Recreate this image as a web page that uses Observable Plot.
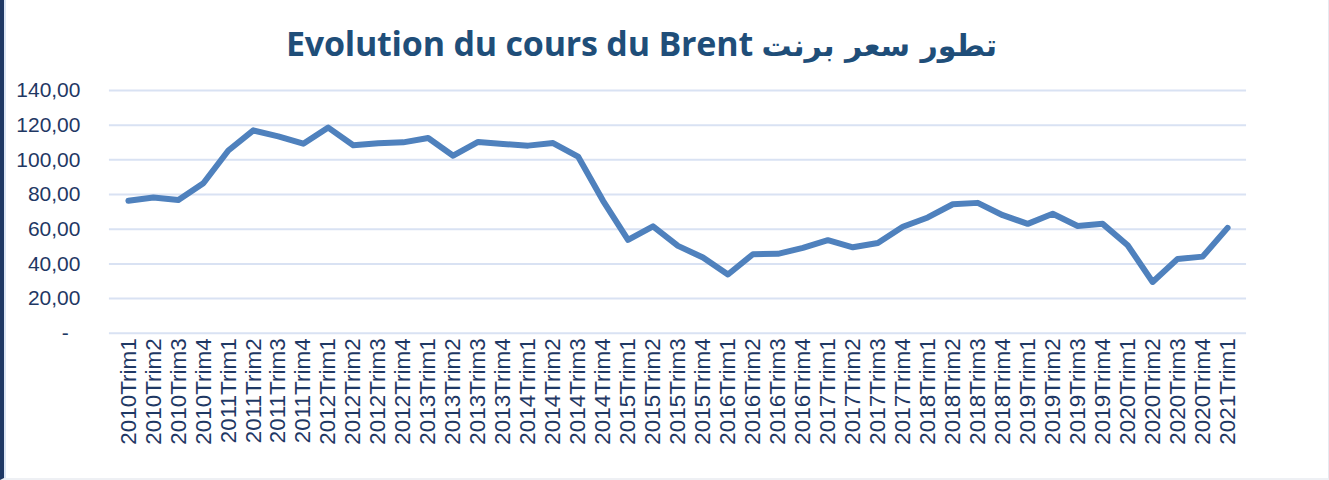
<!DOCTYPE html>
<html>
<head>
<meta charset="utf-8">
<script src="https://cdn.jsdelivr.net/npm/d3@7"></script>
<script src="https://cdn.jsdelivr.net/npm/@observablehq/plot@0.6"></script>
<style>
  html, body { margin: 0; padding: 0; background: #fff; }
  #frame { position: relative; width: 1329px; height: 480px; overflow: hidden; box-sizing: border-box;
           border-left: 4px solid #1f3864; border-right: 1px solid #e6e9ef; border-bottom: 2px solid #eef0f4; }
  #frame::before { content: ""; position: absolute; left: 0; top: 0; bottom: 0; width: 2px; background: #dbe5f4; }
  #title { position: absolute; left: -4px; top: 0; width: 1329px; height: 70px; box-sizing: border-box;
           padding-right: 46px; text-align: center; font: bold 34px "Open Sans", "DejaVu Sans", sans-serif;
           color: #1f4e79; line-height: 86px; white-space: nowrap; letter-spacing: -0.2px; }
  #title .ar { font: bold 30px "DejaVu Sans", sans-serif; letter-spacing: 0; }
  #chart { position: absolute; left: -4px; top: 70px; }
  #chart text { font-family: "Liberation Sans", Arial, sans-serif; }
</style>
</head>
<body>
<div id="frame">
  <div id="title">Evolution du cours du Brent <span class="ar">تطور سعر برنت</span></div>
  <div id="chart"></div>
</div>
<script>
const quarters = [
  "2010Trim1","2010Trim2","2010Trim3","2010Trim4",
  "2011Trim1","2011Trim2","2011Trim3","2011Trim4",
  "2012Trim1","2012Trim2","2012Trim3","2012Trim4",
  "2013Trim1","2013Trim2","2013Trim3","2013Trim4",
  "2014Trim1","2014Trim2","2014Trim3","2014Trim4",
  "2015Trim1","2015Trim2","2015Trim3","2015Trim4",
  "2016Trim1","2016Trim2","2016Trim3","2016Trim4",
  "2017Trim1","2017Trim2","2017Trim3","2017Trim4",
  "2018Trim1","2018Trim2","2018Trim3","2018Trim4",
  "2019Trim1","2019Trim2","2019Trim3","2019Trim4",
  "2020Trim1","2020Trim2","2020Trim3","2020Trim4",
  "2021Trim1"
];
const brent = [
  76.4, 78.3, 76.9, 86.5,
  105.4, 117.0, 113.5, 109.3,
  118.6, 108.4, 109.6, 110.1,
  112.6, 102.4, 110.3, 109.2,
  108.2, 109.7, 101.9, 76.4,
  53.9, 61.7, 50.4, 43.7,
  33.9, 45.6, 45.8, 49.3,
  53.7, 49.6, 52.1, 61.4,
  66.8, 74.4, 75.2, 68.1,
  63.1, 68.9, 61.9, 63.1,
  50.8, 29.6, 42.9, 44.2,
  60.8
];
const yTicks = [0, 20, 40, 60, 80, 100, 120, 140];

const data = quarters.map((q, i) => ({q, v: brent[i]}));
const fmt = d => d === 0 ? "-\u00a0\u00a0" : d.toFixed(2).replace(".", ",");

const chart = Plot.plot({
  width: 1329,
  height: 410,
  marginTop: 20,
  marginBottom: 147,
  marginLeft: 109,
  marginRight: 82,
  style: {background: "transparent", color: "#1f3864"},
  x: {type: "point", domain: quarters, padding: 0.5, label: null},
  y: {domain: [0, 140], ticks: yTicks, label: null},
  marks: [
    Plot.ruleY(yTicks, {stroke: "#d9e2f3", strokeWidth: 2}),
    Plot.axisY({ticks: yTicks, tickFormat: fmt, tickSize: 0, tickPadding: 29, fontSize: 21, fill: "#1f3864", label: null}),
    Plot.axisX({tickSize: 0, tickPadding: 5, tickRotate: -90, fontSize: 22.5, fill: "#1f3864", label: null}),
    Plot.lineY(data, {x: "q", y: "v", stroke: "#4f81bd", strokeWidth: 6, strokeLinejoin: "round", strokeLinecap: "round"})
  ]
});
document.getElementById("chart").appendChild(chart);
</script>
</body>
</html>
